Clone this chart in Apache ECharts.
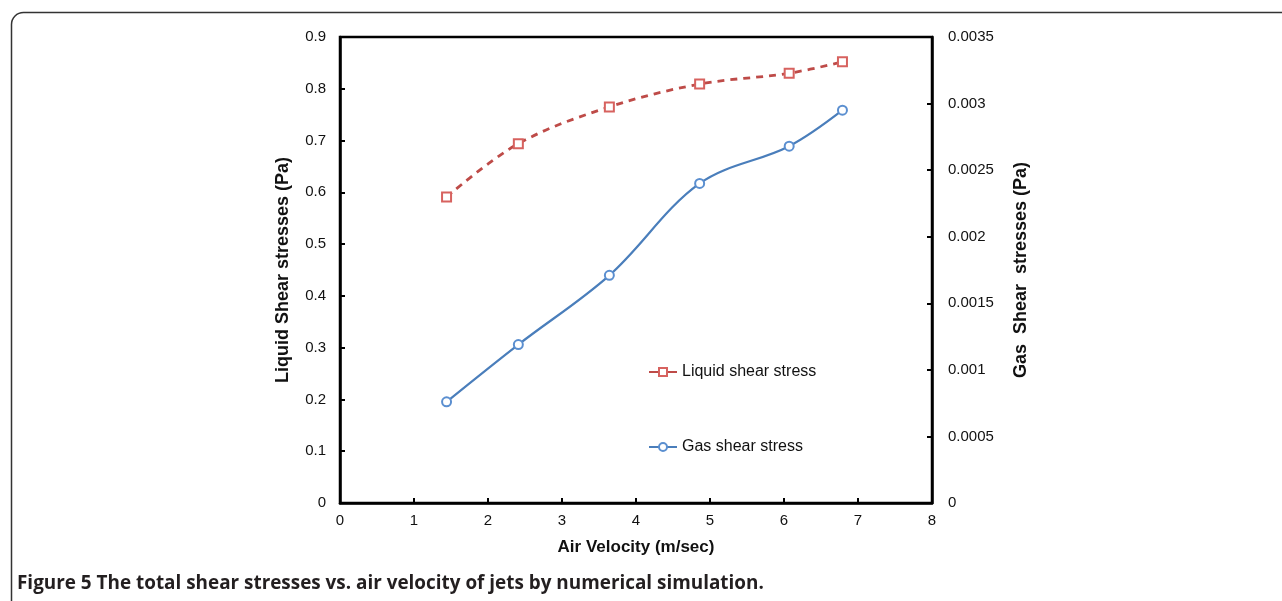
<!DOCTYPE html>
<html>
<head>
<meta charset="utf-8">
<script src="https://cdn.jsdelivr.net/npm/echarts@6/dist/echarts.min.js"></script>
<style>
  html, body { margin: 0; padding: 0; background: #fff; }
  #chart { width: 1282px; height: 601px; }
</style>
</head>
<body>
<div id="chart"></div>
<script>
// air velocity (m/sec)
const velocity = [1.44, 2.41, 3.64, 4.86, 6.07, 6.79];
// liquid shear stresses (Pa), left axis
const liquidStress = [0.591, 0.694, 0.765, 0.809, 0.830, 0.852];
// gas shear stresses (Pa), right axis
const gasStress = [0.00076, 0.00119, 0.00171, 0.00240, 0.00268, 0.00295];

const liquidName = 'Liquid shear stress';
const gasName = 'Gas shear stress';
const caption = 'Figure 5 The total shear stresses vs. air velocity of jets by numerical simulation.';

const chart = echarts.init(document.getElementById('chart'));

const font = 'Liberation Sans, Arial, sans-serif';
const tickLabel = { color: '#111', fontSize: 15, fontFamily: font };
const yName = { color: '#111', fontSize: 18, fontWeight: 'bold', fontFamily: font };

chart.setOption({
    animation: false,
    grid: {
        left: 340,
        top: 37,
        width: 592,
        height: 466,
        show: true,
        borderColor: '#000',
        borderWidth: 2.5
    },
    legend: {
        orient: 'vertical',
        left: 643,
        top: 359,
        itemGap: 59,
        itemWidth: 28,
        itemHeight: 10,
        textStyle: { color: '#111', fontSize: 16, fontFamily: font },
        data: [
            { name: liquidName, lineStyle: { type: 'solid' } },
            { name: gasName }
        ]
    },
    xAxis: {
        type: 'value',
        min: 0,
        max: 8,
        interval: 1,
        name: 'Air Velocity (m/sec)',
        nameLocation: 'middle',
        nameGap: 36,
        nameTextStyle: { color: '#111', fontSize: 17, fontWeight: 'bold', fontFamily: font },
        axisLine: { lineStyle: { color: '#000', width: 2.5 } },
        axisTick: { inside: true, length: 5, lineStyle: { color: '#000', width: 2 } },
        axisLabel: Object.assign({ margin: 10 }, tickLabel),
        splitLine: { show: false }
    },
    yAxis: [
        {
            type: 'value',
            min: 0,
            max: 0.9,
            interval: 0.1,
            name: 'Liquid Shear stresses (Pa)',
            nameLocation: 'middle',
            nameGap: 48,
            nameTextStyle: yName,
            axisLine: { show: true, lineStyle: { color: '#000', width: 2.5 } },
            axisTick: { show: true, inside: true, length: 5, lineStyle: { color: '#000', width: 2 } },
            axisLabel: Object.assign({ margin: 14 }, tickLabel),
            splitLine: { show: false }
        },
        {
            type: 'value',
            min: 0,
            max: 0.0035,
            interval: 0.0005,
            position: 'right',
            name: 'Gas  Shear  stresses (Pa)',
            nameLocation: 'middle',
            nameGap: 80,
            nameRotate: 90,
            nameTextStyle: yName,
            axisLine: { show: true, lineStyle: { color: '#000', width: 2.5 } },
            axisTick: { show: true, inside: true, length: 5, lineStyle: { color: '#000', width: 2 } },
            axisLabel: Object.assign({
                margin: 16,
                formatter: v => String(parseFloat(v.toFixed(4)))
            }, tickLabel),
            splitLine: { show: false }
        }
    ],
    series: [
        {
            name: liquidName,
            type: 'line',
            yAxisIndex: 0,
            smooth: 0.35,
            data: velocity.map((v, i) => [v, liquidStress[i]]),
            symbol: 'emptyRect',
            symbolSize: 9,
            itemStyle: { color: '#d7625f', borderColor: '#d7625f', borderWidth: 1.2 },
            lineStyle: { color: '#be4b48', width: 2.8, type: [7, 6] }
        },
        {
            name: gasName,
            type: 'line',
            yAxisIndex: 1,
            smooth: 0.35,
            data: velocity.map((v, i) => [v, gasStress[i]]),
            symbol: 'emptyCircle',
            symbolSize: 9,
            itemStyle: { color: '#5b8fd0', borderColor: '#5b8fd0', borderWidth: 1.2 },
            lineStyle: { color: '#4a7ebb', width: 2.2 }
        }
    ],
    graphic: [
        {
            type: 'rect',
            left: 9,
            top: 10,
            shape: { width: 1300, height: 620, r: 12 },
            style: { fill: 'none', stroke: '#333', lineWidth: 1.5 },
            silent: true
        },
        {
            type: 'text',
            left: 17,
            top: 574,
            style: {
                text: caption,
                fontSize: 18.9,
                fontWeight: 'bold',
                fill: '#231f20',
                fontFamily: 'Open Sans, sans-serif'
            }
        }
    ]
});
</script>
</body>
</html>
